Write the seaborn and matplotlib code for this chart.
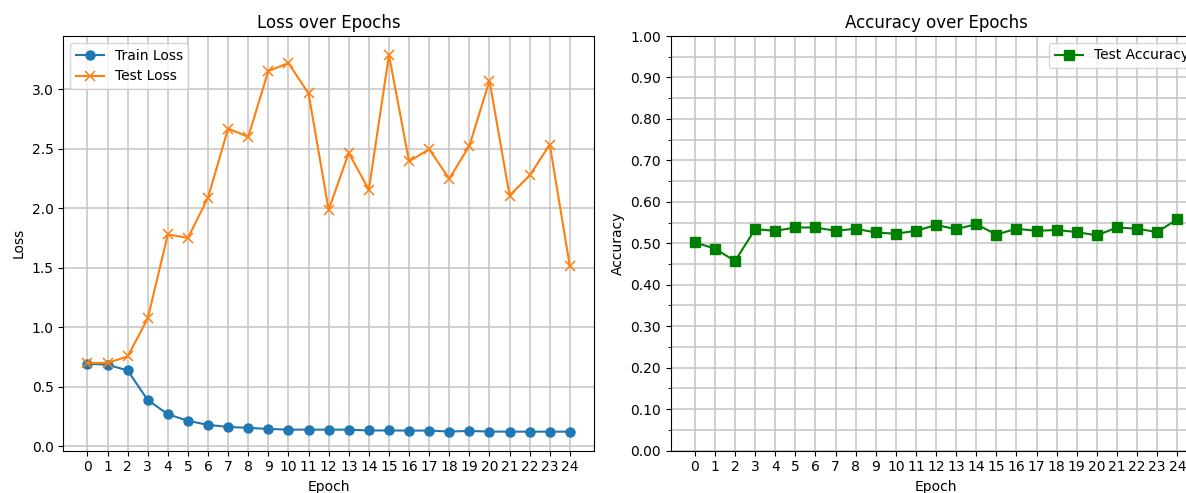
import matplotlib
matplotlib.use("Agg")
import matplotlib.pyplot as plt
from matplotlib.ticker import MultipleLocator, FormatStrFormatter
import numpy as np
import pandas as pd
import seaborn as sns

epochs = list(range(25))
train_loss = [0.692, 0.684, 0.636, 0.387, 0.268, 0.212, 0.178, 0.161, 0.153, 0.144,
              0.138, 0.138, 0.138, 0.138, 0.131, 0.131, 0.130, 0.130, 0.122, 0.127,
              0.122, 0.121, 0.121, 0.121, 0.121]
test_loss = [0.698, 0.698, 0.754, 1.073, 1.78, 1.75, 2.09, 2.67, 2.60, 3.155,
             3.22, 2.966, 1.986, 2.465, 2.155, 3.29, 2.394, 2.496, 2.248, 2.524,
             3.073, 2.107, 2.276, 2.535, 1.51]
test_acc = [0.502, 0.487, 0.457, 0.534, 0.530, 0.538, 0.538, 0.530, 0.535, 0.526,
            0.523, 0.530, 0.544, 0.534, 0.546, 0.521, 0.535, 0.530, 0.532, 0.527,
            0.519, 0.538, 0.535, 0.527, 0.558]

df = pd.DataFrame({"Epoch": epochs, "train": train_loss, "test": test_loss, "acc": test_acc})

GRID = dict(color="#c4c4c4", linewidth=1.1)

W, H = 1186, 493
fig = plt.figure(figsize=(W / 100, H / 100), dpi=100)
ax1 = fig.add_axes([63.3 / W, (H - 450.5) / H, 530.7 / W, 414.5 / H])
ax2 = fig.add_axes([670.7 / W, (H - 450.5) / H, 530.7 / W, 414.5 / H])

sns.lineplot(data=df, x="Epoch", y="train", ax=ax1, color="#1f77b4", marker="o",
             markersize=6.5, markeredgecolor="#1f77b4", markeredgewidth=1, label="Train Loss")
sns.lineplot(data=df, x="Epoch", y="test", ax=ax1, color="#ff7f0e", marker="x",
             markersize=6.5, markeredgecolor="#ff7f0e", markeredgewidth=1.1, label="Test Loss")
ax1.set_title("Loss over Epochs", fontsize=12)
ax1.set_xlabel("Epoch")
ax1.set_ylabel("Loss")
ax1.set_xticks(epochs)
ax1.grid(True, **GRID)
ax1.legend(loc="upper left")

sns.lineplot(data=df, x="Epoch", y="acc", ax=ax2, color="green", marker="s",
             markersize=6.5, markeredgecolor="green", markeredgewidth=1, label="Test Accuracy")
ax2.set_title("Accuracy over Epochs", fontsize=12)
ax2.set_xlabel("Epoch")
ax2.set_ylabel("Accuracy")
ax2.set_xticks(epochs)
ax2.set_ylim(0, 1)
ax2.yaxis.set_major_locator(MultipleLocator(0.1))
ax2.yaxis.set_minor_locator(MultipleLocator(0.05))
ax2.yaxis.set_major_formatter(FormatStrFormatter("%.2f"))
ax2.grid(True, which="both", **GRID)
ax2.legend(loc="upper right")

fig.savefig("out.png", dpi=100)
